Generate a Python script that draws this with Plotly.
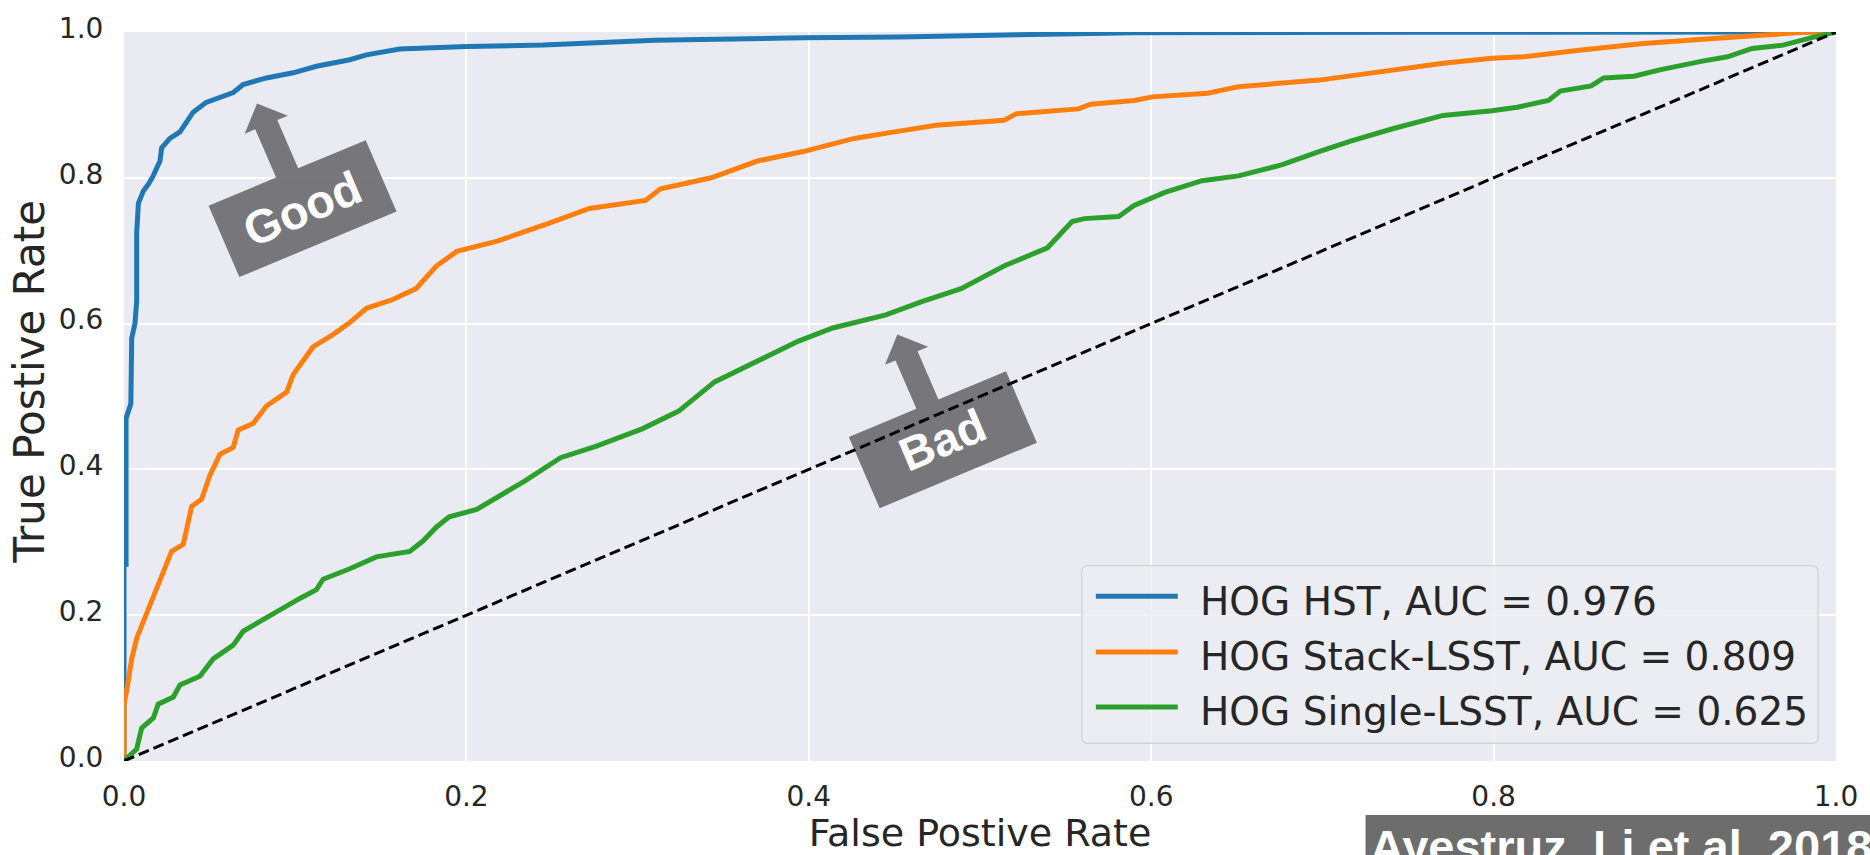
import math
import plotly.graph_objects as go

# ---------------- data ----------------
series_names = [
    "HOG HST, AUC = 0.976",
    "HOG Stack-LSST, AUC = 0.809",
    "HOG Single-LSST, AUC = 0.625",
]
series_colors = ["#1f77b4", "#ff7f0e", "#2ca02c"]

hst_fpr = [0, 0, 0.0012, 0.0012, 0.004, 0.0045, 0.0064, 0.0074, 0.0074, 0.0084, 0.0113,
           0.0142, 0.0171, 0.021, 0.022, 0.0268, 0.0327, 0.0404, 0.048, 0.0638, 0.0696,
           0.0832, 0.0988, 0.1124, 0.1319, 0.1416, 0.161, 0.200, 0.245, 0.3075, 0.310,
           0.397, 0.453, 0.539, 0.59, 0.75, 1.0]
hst_tpr = [0, 0.27, 0.27, 0.47, 0.49, 0.58, 0.60, 0.63, 0.724, 0.765, 0.782,
           0.791, 0.803, 0.823, 0.841, 0.854, 0.863, 0.890, 0.9035, 0.917, 0.928,
           0.937, 0.944, 0.953, 0.962, 0.9686, 0.9766, 0.980, 0.982, 0.9875, 0.9888,
           0.992, 0.993, 0.997, 0.999, 0.9995, 1.0]

stack_fpr = [0, 0, 0.0016, 0.0045, 0.0074, 0.0132, 0.019, 0.0249, 0.0278, 0.0346, 0.0395,
             0.0453, 0.0502, 0.056, 0.0638, 0.0667, 0.0754, 0.0832, 0.095, 0.0988, 0.1104,
             0.122, 0.1319, 0.1416, 0.157, 0.1706, 0.1824, 0.1944, 0.218, 0.248, 0.2718,
             0.3046, 0.3134, 0.343, 0.370, 0.3967, 0.4265, 0.4527, 0.4743, 0.514, 0.5214,
             0.5575, 0.5647, 0.590, 0.6007, 0.633, 0.651, 0.698, 0.734, 0.7705, 0.799,
             0.8174, 0.850, 0.886, 0.922, 0.951, 0.9835, 1.0]
stack_tpr = [0, 0.078, 0.097, 0.14, 0.1685, 0.202, 0.235, 0.268, 0.2875, 0.297, 0.349,
             0.359, 0.392, 0.4206, 0.430, 0.454, 0.463, 0.487, 0.506, 0.530, 0.568,
             0.585, 0.6013, 0.621, 0.633, 0.648, 0.679, 0.699, 0.713, 0.7375, 0.758,
             0.769, 0.785, 0.800, 0.823, 0.836, 0.854, 0.864, 0.872, 0.879, 0.888,
             0.8945, 0.901, 0.906, 0.911, 0.916, 0.925, 0.934, 0.946, 0.957, 0.964,
             0.966, 0.975, 0.984, 0.990, 0.9955, 1.0, 1.0]

single_fpr = [0, 0.0074, 0.0103, 0.0171, 0.020, 0.0288, 0.0327, 0.0443, 0.0521, 0.0638,
              0.0696, 0.0832, 0.093, 0.1027, 0.1124, 0.1163, 0.1319, 0.1474, 0.1669, 0.1746,
              0.1824, 0.190, 0.206, 0.234, 0.255, 0.276, 0.303, 0.324, 0.345, 0.373,
              0.394, 0.414, 0.433, 0.445, 0.466, 0.489, 0.514, 0.5394, 0.5538, 0.561,
              0.581, 0.590, 0.608, 0.6297, 0.651, 0.6766, 0.698, 0.716, 0.7415, 0.7705,
              0.799, 0.8138, 0.832, 0.839, 0.857, 0.8643, 0.882, 0.897, 0.922, 0.9366,
              0.951, 0.969, 0.987, 1.0]
single_tpr = [0, 0.0164, 0.045, 0.059, 0.078, 0.0877, 0.1044, 0.1163, 0.140, 0.159,
              0.178, 0.197, 0.211, 0.223, 0.235, 0.2494, 0.2637, 0.280, 0.2875, 0.3017,
              0.3207, 0.335, 0.345, 0.384, 0.416, 0.432, 0.456, 0.480, 0.520, 0.552,
              0.576, 0.594, 0.605, 0.612, 0.630, 0.648, 0.679, 0.704, 0.740, 0.744,
              0.747, 0.762, 0.780, 0.796, 0.8026, 0.818, 0.836, 0.850, 0.8676, 0.8856,
              0.892, 0.8968, 0.906, 0.919, 0.926, 0.937, 0.9394, 0.948, 0.960, 0.966,
              0.9775, 0.982, 0.993, 1.0]

chance_x = [0, 1]
chance_y = [0, 1]

tick_vals = [0, 0.2, 0.4, 0.6, 0.8, 1.0]
tick_text = ["0.0", "0.2", "0.4", "0.6", "0.8", "1.0"]

x_title = "False Postive Rate"
y_title = "True Postive Rate"
citation = "Ayestruz, Li et al. 2018"

# callouts: (label, centre fpr, centre tpr)
callouts = [("Good", 0.1043, 0.7577), ("Bad", 0.4783, 0.4406)]

# ---------------- layout geometry ----------------
W, H = 1870, 855
ML, MR, MT, MB = 124, 32, 25, 87
PW, PH = W - ML - MR, H - MT - MB
TEXT = "#262626"


def paper_x(px):
    return (px - ML) / PW


def paper_y(py):
    return (H - MB - py) / PH


fig = go.Figure()

curves = [(hst_fpr, hst_tpr), (stack_fpr, stack_tpr), (single_fpr, single_tpr)]
for (fx, ty), name, col in zip(curves, series_names, series_colors):
    fig.add_trace(go.Scatter(x=fx, y=ty, mode="lines", name=name,
                             line=dict(color=col, width=5), hoverinfo="skip"))

fig.add_trace(go.Scatter(x=chance_x, y=chance_y, mode="lines", showlegend=False,
                         line=dict(color="black", width=3, dash="11px,5px"),
                         hoverinfo="skip"))

# ---------------- callout signs (rotated box + arrow) ----------------
ANG = math.radians(23)
eu = (math.cos(ANG), -math.sin(ANG))      # along the box (screen px, y down)
ev = (-math.sin(ANG), -math.cos(ANG))     # "up" of the box
BW, BH = 171, 79
local_pts = [(-BW / 2, -BH / 2), (BW / 2, -BH / 2), (BW / 2, BH / 2), (12, BH / 2),
             (12, 93), (23.5, 93), (0, 116.5), (-23.5, 93), (-12, 93), (-12, BH / 2),
             (-BW / 2, BH / 2)]

shapes = []
annotations = []
for label, cx, cy in callouts:
    cpx = ML + cx * PW
    cpy = MT + (1 - cy) * PH
    pts = []
    for u, v in local_pts:
        sx = cpx + u * eu[0] + v * ev[0]
        sy = cpy + u * eu[1] + v * ev[1]
        pts.append(((sx - ML) / PW, (H - MB - sy) / PH))
    path = "M " + " L ".join(f"{a:.5f},{b:.5f}" for a, b in pts) + " Z"
    shapes.append(dict(type="path", xref="x", yref="y", path=path,
                       fillcolor="rgba(109,109,113,0.92)", line=dict(width=0),
                       layer="between"))
    annotations.append(dict(x=cx, y=cy, xref="x", yref="y", text=f"<b>{label}</b>",
                            showarrow=False, textangle=-23,
                            font=dict(family="Liberation Sans", size=47, color="white"),
                            xanchor="center", yanchor="middle"))

# ---------------- legend (drawn to match the matplotlib look) ----------------
lx0, lx1, ly0, ly1 = 1083, 1820, 569, 750
r = 6
rx, ry = r / PW, r / PH
X0, X1, Y0, Y1 = paper_x(lx0), paper_x(lx1), paper_y(ly1), paper_y(ly0)
leg_path = (f"M {X0 + rx},{Y0} L {X1 - rx},{Y0} Q {X1},{Y0} {X1},{Y0 + ry} "
            f"L {X1},{Y1 - ry} Q {X1},{Y1} {X1 - rx},{Y1} L {X0 + rx},{Y1} "
            f"Q {X0},{Y1} {X0},{Y1 - ry} L {X0},{Y0 + ry} Q {X0},{Y0} {X0 + rx},{Y0} Z")
shapes.append(dict(type="path", xref="paper", yref="paper", path=leg_path,
                   fillcolor="rgba(236,236,243,0.85)",
                   line=dict(color="rgba(204,204,210,0.9)", width=1.2), layer="above"))
row_y = [600, 657, 713]
for ry_px, name, col in zip(row_y, series_names, series_colors):
    shapes.append(dict(type="line", xref="paper", yref="paper",
                       x0=paper_x(1097), x1=paper_x(1179), y0=paper_y(ry_px), y1=paper_y(ry_px),
                       line=dict(color=col, width=5), layer="above"))
    annotations.append(dict(x=paper_x(1199), y=paper_y(ry_px + 5), xref="paper", yref="paper",
                            text=name, showarrow=False, xanchor="left", yanchor="middle",
                            font=dict(family="DejaVu Sans", size=39, color=TEXT)))

# ---------------- y axis title (placed like the reference) ----------------
annotations.append(dict(x=paper_x(29), y=paper_y(382), xref="paper", yref="paper",
                        text=y_title, showarrow=False, textangle=-90,
                        xanchor="center", yanchor="middle",
                        font=dict(family="DejaVu Sans", size=42, color=TEXT)))

# ---------------- citation banner ----------------
shapes.append(dict(type="rect", xref="paper", yref="paper",
                   x0=paper_x(1367), x1=paper_x(1900), y0=paper_y(900), y1=paper_y(823),
                   fillcolor="#6d6d6d", line=dict(width=0), layer="above"))
annotations.append(dict(x=paper_x(1369), y=paper_y(826), xref="paper", yref="paper",
                        text=f"<b>{citation}</b>", showarrow=False,
                        xanchor="left", yanchor="top",
                        font=dict(family="Liberation Sans", size=47, color="white")))

axis_common = dict(range=[0, 1], tickvals=tick_vals, ticktext=tick_text,
                   showgrid=True, gridcolor="white", gridwidth=2, zeroline=False,
                   showline=False, ticks="outside", tickcolor="rgba(0,0,0,0)",
                   tickfont=dict(family="DejaVu Sans", size=28, color=TEXT),
                   fixedrange=True)

fig.update_layout(
    width=W, height=H,
    margin=dict(l=ML, r=MR, t=MT, b=MB, pad=0),
    plot_bgcolor="#EAEAF2", paper_bgcolor="white",
    showlegend=False,
    font=dict(family="DejaVu Sans", color=TEXT),
    xaxis=dict(**axis_common, ticklen=10,
               title=dict(text=x_title, standoff=4,
                          font=dict(family="DejaVu Sans", size=38, color=TEXT))),
    yaxis=dict(**axis_common, ticklen=14, ticklabelshift=-4),
    shapes=shapes,
    annotations=annotations,
)

fig.write_html("out.html")
